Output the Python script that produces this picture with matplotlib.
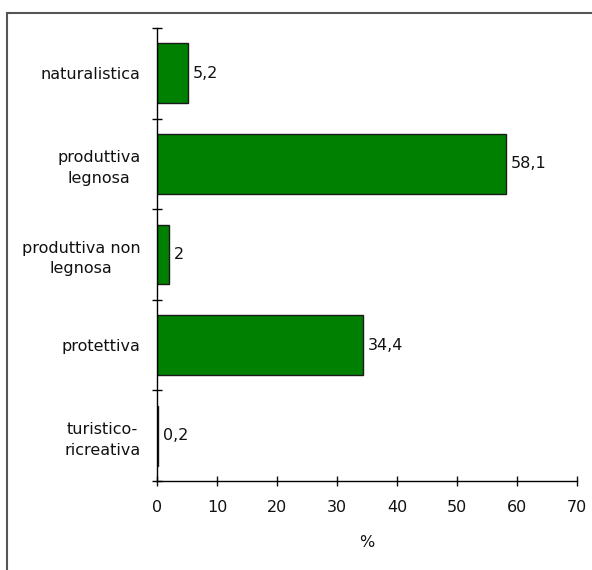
import matplotlib
matplotlib.use("Agg")
import matplotlib.pyplot as plt
from matplotlib.patches import Rectangle
from matplotlib.ticker import FixedLocator

categories = ["naturalistica", "produttiva\nlegnosa", "produttiva non\nlegnosa",
              "protettiva", "turistico-\nricreativa"]
values = [5.2, 58.1, 2.0, 34.4, 0.2]
value_labels = ["5,2", "58,1", "2", "34,4", "0,2"]
x_ticks = [0, 10, 20, 30, 40, 50, 60, 70]

FS = 11.5
W, H = 592, 570
fig = plt.figure(figsize=(W / 100, H / 100), dpi=100)
fig.patch.set_facecolor("white")

# frame around the chart area
frame = Rectangle((7 / W, 0 - 0.05), 1.2, (H - 13) / H + 0.05,
                  transform=fig.transFigure, fill=False,
                  edgecolor="#555555", linewidth=1.5, clip_on=True)
fig.patches.append(frame)

ax = fig.add_axes([157 / W, (H - 481) / H, 420 / W, (481 - 28) / H])
ypos = list(range(len(categories)))
ax.barh(ypos, values, height=0.66, color="#008000",
        edgecolor="#1a1a1a", linewidth=1.0, zorder=2)

for y, v, lab in zip(ypos, values, value_labels):
    ax.annotate(lab, (v, y), xytext=(3.5, 0), textcoords="offset points",
                ha="left", va="center", fontsize=FS, color="#111111")

ax.set_xlim(0, 70)
ax.set_ylim(len(categories) - 0.5, -0.5)
ax.set_xticks(x_ticks)
ax.set_xticklabels([str(t) for t in x_ticks])
ax.set_yticks(ypos)
ax.set_yticklabels(categories, multialignment="center", linespacing=1.45)
ax.yaxis.set_minor_locator(FixedLocator([i - 0.5 for i in range(len(categories) + 1)]))

for s in ("top", "right"):
    ax.spines[s].set_visible(False)
for s in ("left", "bottom"):
    ax.spines[s].set_color("black")
    ax.spines[s].set_linewidth(1.0)

ax.tick_params(axis="x", direction="inout", length=7, width=1.0,
               pad=10.5, labelsize=FS, colors="#111111")
ax.tick_params(axis="y", which="major", length=0, pad=12, labelsize=FS,
               colors="#111111")
ax.tick_params(axis="y", which="minor", direction="inout", length=7, width=1.0)

ax.set_xlabel("%", fontsize=FS, labelpad=14, color="#111111")

fig.savefig("out.png", dpi=100, facecolor="white")
